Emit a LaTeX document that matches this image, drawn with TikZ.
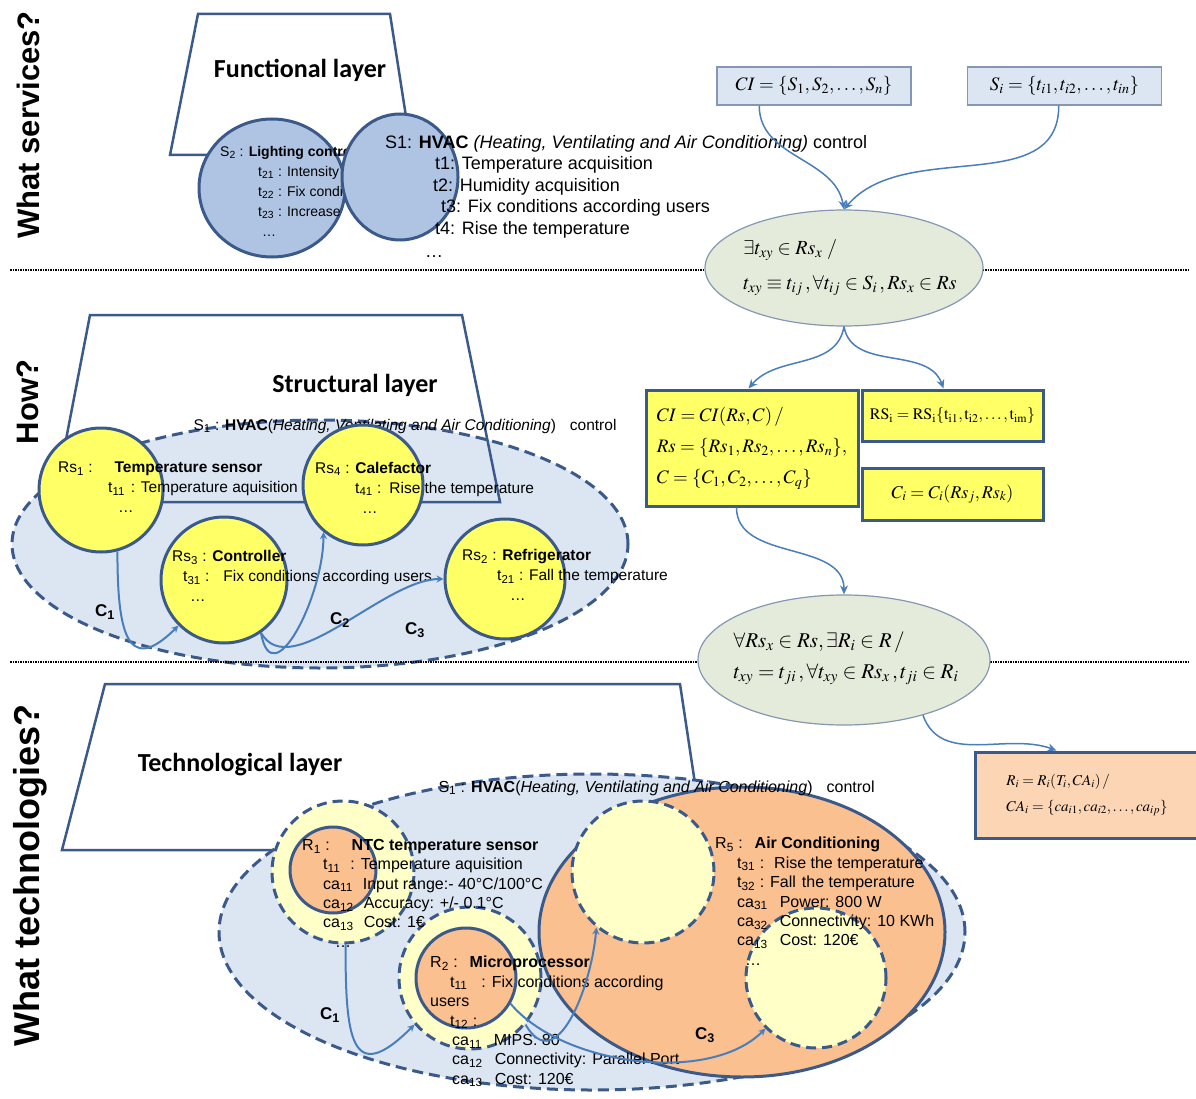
\documentclass[tikz,border=0pt]{standalone}
\usepackage{mathptmx}
\usepackage[no-math]{fontspec}
\setmainfont{Liberation Sans}
\newfontfamily\carlito{Carlito}
\usetikzlibrary{shapes.geometric,arrows.meta,positioning}
\definecolor{edge}{HTML}{3B5A8A}
\definecolor{lnk}{HTML}{4A7EBB}
\definecolor{svc}{HTML}{AFC4E2}
\definecolor{grpfill}{HTML}{DCE6F2}
\definecolor{yel}{HTML}{FFFF66}
\definecolor{pale}{HTML}{FFFFC8}
\definecolor{peach}{HTML}{FAC090}
\definecolor{peachbox}{HTML}{FCD5B4}
\definecolor{sage}{HTML}{E5EBDA}
\definecolor{frame}{HTML}{8597B2}

\begin{document}
\begin{tikzpicture}[x=1pt,y=1pt,
    layer/.style={draw=edge, line width=2.5pt},
    ttl/.style={font=\carlito\bfseries\fontsize{26}{30}\selectfont},
    side/.style={rotate=90, font=\bfseries\fontsize{#1}{36}\selectfont},
    txt/.style={anchor=north west, align=left, inner sep=0pt},
    small/.style={font=\fontsize{15.5}{20}\selectfont},
    tiny/.style={font=\fontsize{16}{19.4}\selectfont},
    scirc/.style={ellipse, draw=edge, fill=svc, line width=3pt, inner sep=0pt},
    ycirc/.style={circle, draw=edge, fill=yel, line width=3pt, inner sep=0pt, minimum size=#1pt},
    ocirc/.style={circle, draw=edge, fill=peach, line width=3pt, inner sep=0pt, minimum size=#1pt},
    dcirc/.style={circle, draw=edge, fill=pale, line width=3pt, dash pattern=on 10pt off 6pt, inner sep=0pt, minimum size=#1pt},
    grp/.style={ellipse, draw=edge, fill=grpfill, line width=3pt, dash pattern=on 11pt off 6pt},
    fbox/.style={rectangle, draw=frame, fill=grpfill, line width=1.5pt, minimum width=194pt, minimum height=38pt, font=\fontsize{19}{20}\selectfont},
    frm/.style={ellipse, draw=frame, fill=sage, line width=1.2pt, inner sep=0pt},
    ftxt/.style={align=left, inner sep=0pt},
    ybox/.style={rectangle, draw=edge, fill=yel, line width=3pt, align=left},
    obox/.style={rectangle, draw=edge, fill=peachbox, line width=3pt, align=left},
    conn/.style={draw=lnk, line width=1.5pt, -{Stealth[length=9pt,width=8pt]}},
    conn2/.style={draw=lnk, line width=2pt, -{Stealth[length=7pt,width=7pt]}},
    clbl/.style={font=\bfseries\fontsize{17}{20}\selectfont},
    sep/.style={line width=1.3pt, dash pattern=on 1.5pt off 1pt}]
\useasboundingbox (0,0) rectangle (1196,-1099);

\node[side=31] (q1) at (28,-125) {What services?};
\node[side=31] (q2) at (28,-402) {How?};
\node[side=36] (q3) at (30,-875) {What technologies?};

% functional layer
\draw[layer] (198,-14) -- (390,-14) -- (412,-155) -- (170,-155) -- cycle;
\node[ttl] (ftitle) at (300,-70) {Functional layer};
\node[scirc, minimum width=146pt, minimum height=138pt] (s2) at (272,-188) {};
\node[txt, font=\fontsize{14}{20}\selectfont] (s2t) at (220,-146) {S\textsubscript{2} : \textbf{Lighting control}\\
    \hspace*{38pt}t\textsubscript{21} : Intensity\\
    \hspace*{38pt}t\textsubscript{22} : Fix conditions\\
    \hspace*{38pt}t\textsubscript{23} : Increase\\
    \hspace*{42pt}\dots};
\node[scirc, minimum width=116pt, minimum height=126pt] (s1) at (400,-177) {};
\node[txt, font=\fontsize{18}{21.5}\selectfont] (s1t) at (385,-135) {S1: \textbf{HVAC} \textit{(Heating, Ventilating and Air Conditioning)} control\\
    \hspace*{50pt}t1: Temperature acquisition\\
    \hspace*{48pt}t2: Humidity acquisition\\
    \hspace*{56pt}t3: Fix conditions according users\\
    \hspace*{50pt}t4: Rise the temperature\\[2pt]
    \hspace*{40pt}\dots};

% structural layer
\node[grp, minimum width=616pt, minimum height=248pt] (sgrp) at (320,-544) {};
\draw[layer] (90,-315) -- (462,-315) -- (500,-502) -- (54,-502) -- cycle;
\node[ttl] (stitle) at (355,-385) {Structural layer};
\node[small, anchor=west] (sname) at (190,-426) {S\textsubscript{1} : \textbf{HVAC}(\textit{Heating, Ventilating and Air Conditioning})\hspace{14pt}control};
\node[ycirc=124] (rs1) at (101,-490) {};
\node[txt, small] (rs1t) at (58,-462) {Rs\textsubscript{1} :\hspace{22pt}\textbf{Temperature sensor}\\
    \hspace*{50pt}t\textsubscript{11}\hspace{6pt}: Temperature aquisition\\
    \hspace*{60pt}\dots};
\node[ycirc=120] (rs4) at (363,-485) {};
\node[txt, small] (rs4t) at (315,-462) {Rs\textsubscript{4} : \textbf{Calefactor}\\
    \hspace*{40pt}t\textsubscript{41} :\hspace{8pt}Rise the temperature\\
    \hspace*{47pt}\dots};
\node[ycirc=126] (rs3) at (224,-580) {};
\node[txt, small] (rs3t) at (172,-550) {Rs\textsubscript{3} : \textbf{Controller}\\
    \hspace*{11pt}t\textsubscript{31} :\hspace{14pt}Fix conditions according users\\
    \hspace*{18pt}\dots};
\node[ycirc=120] (rs2) at (505,-579) {};
\node[txt, small] (rs2t) at (462,-549) {Rs\textsubscript{2} : \textbf{Refrigerator}\\
    \hspace*{35pt}t\textsubscript{21} : Fall the temperature\\
    \hspace*{48pt}\dots};
\draw[conn2] (rs1.-75) to[out=-90,in=-135,looseness=2] (rs3.-135);
\draw[conn2] (rs3.-55) to[out=-80,in=-90,looseness=1.4] (rs4.-130);
\draw[conn2] (rs3.-55) to[out=-60,in=180,looseness=0.8] (rs2.west);
\node[clbl] (sc1) at (105,-612) {C\textsubscript{1}};
\node[clbl] (sc2) at (340,-620) {C\textsubscript{2}};
\node[clbl] (sc3) at (415,-630) {C\textsubscript{3}};

\draw[sep] (10,-270) -- (1190,-270);
\draw[sep] (10,-662) -- (1190,-662);

% formulas
\node[fbox] (ci) at (814,-86) {$CI = \{S_1, S_2, \dots, S_n\}$};
\node[fbox, right=55pt of ci] (si) {$S_i = \{t_{i1}, t_{i2}, \dots, t_{in}\}$};
\node[frm, minimum width=278pt, minimum height=116pt] (rule1) at (844,-268) {};
\node[ftxt, font=\fontsize{20}{35}\selectfont] (rule1t) at (850,-268)
    {$\exists t_{xy} \in Rs_x \;/$\\ $t_{xy} \equiv t_{ij}\,, \forall t_{ij} \in S_i\,, Rs_x \in Rs$};
\draw[conn] ([xshift=43pt]ci.south west) to[out=-90,in=100] (rule1.north);
\draw[conn] ([xshift=92pt]si.south west) to[out=-90,in=50] (rule1.north);
\node[ybox, minimum width=212pt, minimum height=116pt, font=\fontsize{19}{31}\selectfont] (model) at (752,-448)
    {$CI = CI(Rs, C)\,/$\\ $Rs = \{Rs_1, Rs_2, \dots, Rs_n\},$\\ $C = \{C_1, C_2, \dots, C_q\}$};
\node[ybox, minimum width=181pt, minimum height=51pt, font=\fontsize{16}{18}\selectfont] (rsbox) at (952.5,-415.5)
    {$\mathrm{RS_i = RS_i\{t_{i1}, t_{i2}, \ldots, t_{im}\}}$};
\node[ybox, minimum width=181pt, minimum height=52pt, font=\fontsize{18}{20}\selectfont, below=24pt of rsbox] (cbox)
    {$C_i = C_i(Rs_j, Rs_k)$};
\draw[conn] (rule1.south) to[out=-100,in=50] ([xshift=104pt]model.north west);
\draw[conn] (rule1.south) to[out=-80,in=110] ([xshift=83pt]rsbox.north west);
\node[frm, minimum width=292pt, minimum height=130pt] (rule2) at (844,-660) {};
\node[ftxt, font=\fontsize{21}{31}\selectfont] (rule2t) at (846,-658)
    {$\forall Rs_x \in Rs, \exists R_i \in R\,/$\\ $t_{xy} = t_{ji}\,, \forall t_{xy} \in Rs_x\,, t_{ji} \in R_i$};
\draw[conn] ([xshift=92pt]model.south west) to[out=-90,in=90] (rule2.north);
\node[obox, minimum width=224pt, minimum height=86pt, font=\fontsize{15}{26}\selectfont] (res) at (1087,-795)
    {$R_i = R_i(T_i, CA_i)\,/$\\ $CA_i = \{ca_{i1}, ca_{i2}, \dots, ca_{ip}\}$};
\draw[conn] (rule2.-35) to[out=-70,in=160] ([xshift=83pt]res.north west);

% technological layer
\draw[layer] (105,-684) -- (680,-684) -- (705,-850) -- (62,-850) -- cycle;
\node[ttl] (ttitle) at (240,-765) {Technological layer};
\node[grp, minimum width=746pt, minimum height=316pt] (tgrp) at (592,-932) {};
\node[ellipse, draw=edge, fill=peach, line width=3pt, minimum width=406pt, minimum height=290pt] (r5) at (742,-932) {};
\node[dcirc=142] (r5a) at (643,-872) {};
\node[dcirc=140] (r5b) at (816,-978) {};
\node[dcirc=142] (r1o) at (343,-872) {};
\node[ocirc=86] (r1) at (333,-870) {};
\node[dcirc=142] (r2o) at (470,-978) {};
\node[ocirc=100] (r2) at (466,-978) {};
\node[tiny, anchor=west] (tname) at (435,-788) {S\textsubscript{1} : \textbf{HVAC}(\textit{Heating, Ventilating and Air Conditioning})\hspace{14pt}control};
\node[txt, tiny] (r1t) at (302,-839) {R\textsubscript{1} :\hspace{22pt}\textbf{NTC temperature sensor}\\
    \hspace*{21pt}t\textsubscript{11}\hspace{10pt}: Temperature aquisition\\
    \hspace*{21pt}ca\textsubscript{11}\hspace{10pt}Input range:- 40°C/100°C\\
    \hspace*{21pt}ca\textsubscript{12}\hspace{10pt}Accuracy: +/- 0.1°C\\
    \hspace*{21pt}ca\textsubscript{13}\hspace{10pt}Cost: 1€\\
    \hspace*{33pt}\dots};
\node[txt, tiny] (r2t) at (430,-956) {R\textsubscript{2} :\hspace{12pt}\textbf{Microprocessor}\\
    \hspace*{20pt}t\textsubscript{11}\hspace{14pt}: Fix conditions according\\
    users\\
    \hspace*{20pt}t\textsubscript{12} :\\
    \hspace*{22pt}ca\textsubscript{11}\hspace{12pt}MIPS: 80\\
    \hspace*{22pt}ca\textsubscript{12}\hspace{12pt}Connectivity: Parallel Port\\
    \hspace*{22pt}ca\textsubscript{13}\hspace{12pt}Cost: 120€};
\node[txt, tiny] (r5t) at (715,-837) {R\textsubscript{5} :\hspace{12pt}\textbf{Air Conditioning}\\
    \hspace*{22pt}t\textsubscript{31} :\hspace{10pt}Rise the temperature\\
    \hspace*{22pt}t\textsubscript{32} : Fall\hspace{6pt}the temperature\\
    \hspace*{22pt}ca\textsubscript{31}\hspace{12pt}Power: 800 W\\
    \hspace*{22pt}ca\textsubscript{32}\hspace{12pt}Connectivity: 10 KWh\\
    \hspace*{22pt}ca\textsubscript{13}\hspace{12pt}Cost: 120€\\
    \hspace*{30pt}\dots};
\draw[conn2] (r1o.-88) to[out=-90,in=-135,looseness=2.2] (r2o.-140);
\draw[conn2] (r2o.-40) to[out=-60,in=-95,looseness=1.3] (r5a.-130);
\draw[conn2] (r2.-30) to[out=-50,in=-135,looseness=0.8] (r5b.-135);
\node[clbl] (tc1) at (330,-1015) {C\textsubscript{1}};
\node[clbl] (tc3) at (705,-1035) {C\textsubscript{3}};
\end{tikzpicture}
\end{document}
